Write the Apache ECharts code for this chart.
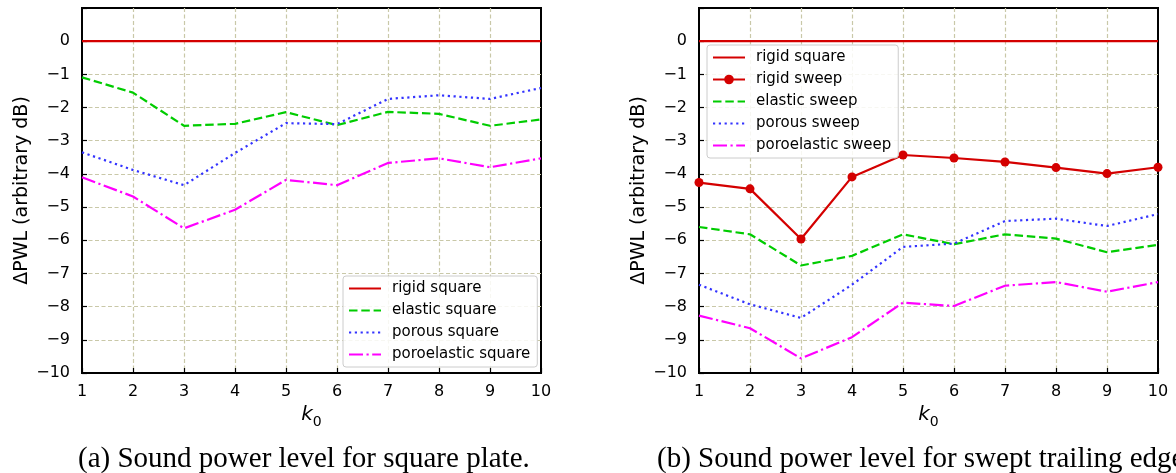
<!DOCTYPE html>
<html>
<head>
<meta charset="utf-8">
<script src="https://cdn.jsdelivr.net/npm/echarts@6/dist/echarts.min.js"></script>
<style>
  html, body { margin: 0; padding: 0; background: #fff; }
  #chart { width: 1176px; height: 473px; }
</style>
</head>
<body>
<div id="chart"></div>
<script>
// Wavenumbers k0
const k0 = [1, 2, 3, 4, 5, 6, 7, 8, 9, 10];

// (a) square plate, ΔPWL in arbitrary dB
const rigidSquare       = [0, 0, 0, 0, 0, 0, 0, 0, 0, 0];
const elasticSquare     = [-1.09, -1.55, -2.55, -2.49, -2.14, -2.53, -2.13, -2.19, -2.55, -2.36];
const porousSquare      = [-3.35, -3.88, -4.34, -3.37, -2.47, -2.50, -1.74, -1.63, -1.74, -1.41];
const poroelasticSquare = [-4.10, -4.68, -5.64, -5.08, -4.18, -4.34, -3.67, -3.53, -3.80, -3.53];

// (b) swept trailing edge
const rigidSweep        = [-4.26, -4.45, -5.96, -4.09, -3.43, -3.52, -3.64, -3.81, -3.99, -3.80];
const elasticSweep      = [-5.60, -5.82, -6.76, -6.47, -5.82, -6.12, -5.82, -5.95, -6.36, -6.14];
const porousSweep       = [-7.34, -7.93, -8.34, -7.34, -6.20, -6.10, -5.42, -5.35, -5.57, -5.21];
const poroelasticSweep  = [-8.27, -8.65, -9.56, -8.92, -7.88, -7.98, -7.37, -7.26, -7.55, -7.26];

const captions = ['(a) Sound power level for square plate.', '(b) Sound power level for swept trailing edge.'];
const yName = 'ΔPWL (arbitrary dB)';

const pair = (xs, ys) => xs.map((x, i) => [x, ys[i]]);
const minus = v => String(v).replace('-', '\u2212');

const SANS = 'DejaVu Sans';
const SERIF = 'Liberation Serif';
const RED = '#d40000', GREEN = '#00cc00', BLUE = '#3333ff', MAGENTA = '#ff00ff';
const LW = 2.2;
const DASH = [8.5, 3.8], DOT = [2.2, 3.6], DASHDOT = [14, 3.5, 2.2, 3.5];
const GRID_COLOR = '#c9c8a8';

const grids = [
  { left: 82, top: 8, width: 459, height: 365 },
  { left: 699, top: 8, width: 459, height: 365 }
];

const splitStyle = { show: true, showMinLine: false, showMaxLine: false,
  lineStyle: { color: GRID_COLOR, type: [4, 2.5], width: 1.2 } };

function xAxisFor(idx) {
  return {
    type: 'value', gridIndex: idx, min: 1, max: 10, interval: 1,
    name: '{i|k}{s|0}', nameLocation: 'middle', nameGap: 27,
    nameTextStyle: {
      rich: {
        i: { fontFamily: SANS, fontStyle: 'italic', fontSize: 20, color: '#000' },
        s: { fontFamily: SANS, fontSize: 14, color: '#000', verticalAlign: 'bottom', padding: [14, 0, 0, 0] }
      }
    },
    axisLine: { show: true, onZero: false, lineStyle: { color: '#000', width: 2 } },
    axisTick: { show: true, inside: true, length: 5, lineStyle: { color: '#000', width: 1.2 } },
    axisLabel: { color: '#000', fontFamily: SANS, fontSize: 16, margin: 11 },
    splitLine: splitStyle
  };
}

function yAxisFor(idx) {
  return {
    type: 'value', gridIndex: idx, min: -10, max: 1, interval: 1,
    name: yName, nameLocation: 'middle', nameGap: 50, nameRotate: 90,
    nameTextStyle: { fontFamily: SANS, fontSize: 19, color: '#000' },
    axisLine: { show: true, onZero: false, lineStyle: { color: '#000', width: 2 } },
    axisTick: { show: true, inside: true, length: 5, lineStyle: { color: '#000', width: 1.2 } },
    axisLabel: {
      color: '#000', fontFamily: SANS, fontSize: 16, margin: 12,
      formatter: v => (v > 0 ? '' : minus(v))
    },
    splitLine: splitStyle
  };
}

function lineSeries(name, idx, ys, color, type, withMarker) {
  return {
    name, type: 'line', xAxisIndex: idx, yAxisIndex: idx,
    data: pair(k0, ys),
    symbol: withMarker ? 'circle' : 'none',
    symbolSize: 9,
    showSymbol: !!withMarker,
    itemStyle: { color },
    lineStyle: { color, width: LW, type },
    animation: false, silent: true, z: 3
  };
}

// legend entries: plain lines get a hidden marker
const plain = name => ({ name, itemStyle: { opacity: 0, borderWidth: 0 } });

const legendCommon = {
  orient: 'vertical',
  itemWidth: 32, itemHeight: 12, itemGap: 7,
  padding: [5, 7, 5, 5],
  backgroundColor: 'rgba(255,255,255,0.85)',
  borderColor: '#cccccc', borderWidth: 1, borderRadius: 3,
  textStyle: { fontFamily: SANS, fontSize: 15, lineHeight: 15, color: '#000', padding: [0, 0, 0, 6] },
  selectedMode: false,
  z: 10
};

const option = {
  backgroundColor: '#fff',
  animation: false,
  grid: grids.map(g => Object.assign({ show: true, borderColor: '#000', borderWidth: 2, backgroundColor: 'transparent' }, g)),
  xAxis: [xAxisFor(0), xAxisFor(1)],
  yAxis: [yAxisFor(0), yAxisFor(1)],
  legend: [
    Object.assign({}, legendCommon, {
      left: 343, top: 276,
      data: [plain('rigid square'), plain('elastic square'), plain('porous square'), plain('poroelastic square')]
    }),
    Object.assign({}, legendCommon, {
      left: 707, top: 45,
      data: [plain('rigid square '), { name: 'rigid sweep' }, plain('elastic sweep'), plain('porous sweep'), plain('poroelastic sweep')]
    })
  ],
  series: [
    lineSeries('rigid square', 0, rigidSquare, RED, 'solid'),
    lineSeries('elastic square', 0, elasticSquare, GREEN, DASH),
    lineSeries('porous square', 0, porousSquare, BLUE, DOT),
    lineSeries('poroelastic square', 0, poroelasticSquare, MAGENTA, DASHDOT),
    // trailing space keeps this legend entry separate from panel (a)
    lineSeries('rigid square ', 1, rigidSquare, RED, 'solid'),
    lineSeries('rigid sweep', 1, rigidSweep, RED, 'solid', true),
    lineSeries('elastic sweep', 1, elasticSweep, GREEN, DASH),
    lineSeries('porous sweep', 1, porousSweep, BLUE, DOT),
    lineSeries('poroelastic sweep', 1, poroelasticSweep, MAGENTA, DASHDOT)
  ],
  graphic: [
    {
      type: 'text', left: 78, top: 445,
      style: { text: captions[0], font: '29px "' + SERIF + '"', fill: '#000' }
    },
    {
      type: 'text', left: 657, top: 445,
      style: { text: captions[1], font: '29px "' + SERIF + '"', fill: '#000' }
    }
  ]
};

const chart = echarts.init(document.getElementById('chart'), null, { renderer: 'canvas' });
chart.setOption(option);
</script>
</body>
</html>
